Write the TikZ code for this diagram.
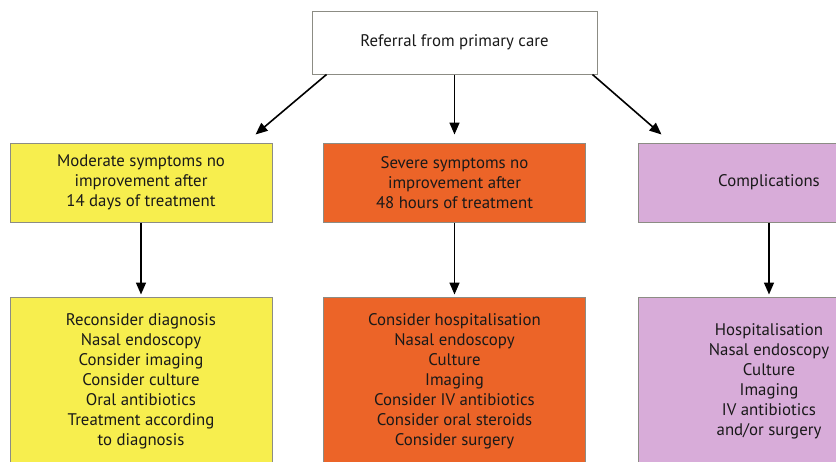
\documentclass[tikz,border=0pt]{standalone}
\usepackage{fontspec}
\setmainfont{PT Sans}
\usetikzlibrary{arrows.meta,calc}
\definecolor{ylw}{HTML}{F7EE4E}
\definecolor{org}{HTML}{EC6428}
\definecolor{lil}{HTML}{D8ACD9}
\definecolor{edge}{HTML}{8C8C84}
\tikzset{
    box/.style={draw=edge, line width=1pt, align=center, inner sep=0pt,
        minimum width=262pt, font=\fontsize{16.8}{20}\selectfont, text=black!90},
    arr/.style={line width=1.6pt, -{Triangle[width=10pt,length=12pt]}}
}
\begin{document}
\begin{tikzpicture}[x=1pt,y=-1pt]
    \useasboundingbox (0,0) rectangle (836,461);
    \clip (0,0) rectangle (836,461);

    % Fila superior
    \node[box, fill=white, minimum width=285pt, minimum height=63pt] (ref) at (454.5,42.5) {Referral from primary care};

    % Fila 2
    \node[box, fill=ylw, minimum height=79pt] (mod) at (141,182.5) {Moderate symptoms no\\improvement after\\14 days of treatment};
    \node[box, fill=org, minimum height=79pt] (sev) at (454.5,182.5) {Severe symptoms no\\improvement after\\48 hours of treatment};
    \node[box, fill=lil, minimum height=79pt] (cmp) at (769,182.5) {Complications};

    % Fila 3
    \node[box, fill=ylw, minimum height=168pt] (modtx) at (141,381) {Reconsider diagnosis\\Nasal endoscopy\\Consider imaging\\Consider culture\\Oral antibiotics\\Treatment according\\to diagnosis};
    \node[box, fill=org, minimum height=168pt] (sevtx) at (454.5,381) {Consider hospitalisation\\Nasal endoscopy\\Culture\\Imaging\\Consider IV antibiotics\\Consider oral steroids\\Consider surgery};
    \node[box, fill=lil, minimum height=168pt] (cmptx) at (769,381) {Hospitalisation\\Nasal endoscopy\\Culture\\Imaging\\IV antibiotics\\and/or surgery};

    % Flechas
    \draw[arr] ($(ref.south west)+(15,0)$) -- ($(mod.north east)+(-17,-8)$);
    \draw[arr, shorten >=8pt] (ref.south) -- (sev.north);
    \draw[arr] ($(ref.south east)+(-5,0)$) -- ($(cmp.north west)+(24,-8)$);
    \foreach \a/\b in {mod/modtx, sev/sevtx, cmp/cmptx} {
        \draw[arr, shorten >=2pt] (\a.south) -- (\b.north);
    }
\end{tikzpicture}
\end{document}
